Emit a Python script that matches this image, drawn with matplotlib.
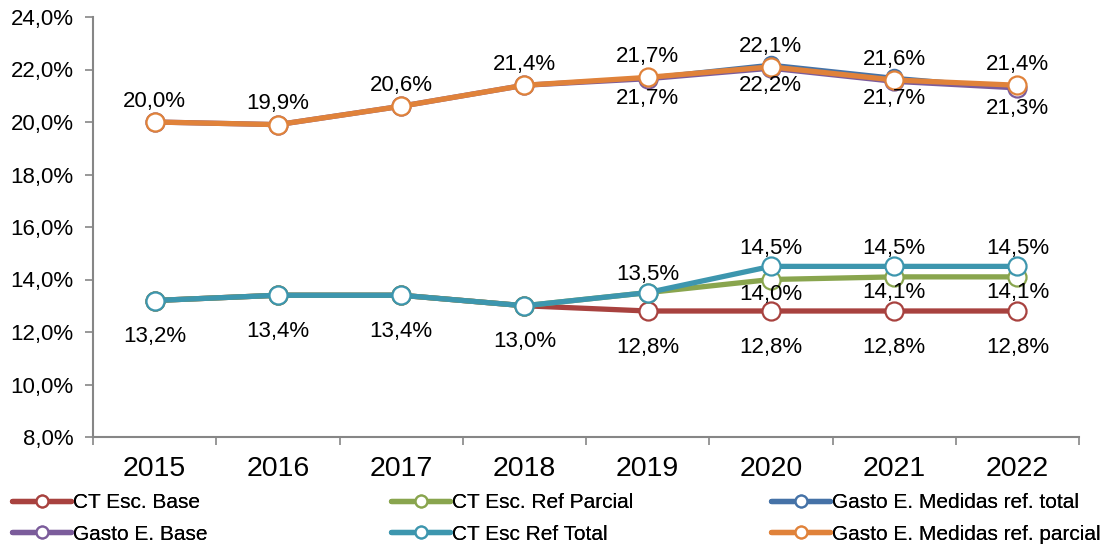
import matplotlib.pyplot as plt
from matplotlib.ticker import FuncFormatter

plt.rcParams['font.family'] = ['Liberation Sans', 'DejaVu Sans']

years = ['2015', '2016', '2017', '2018', '2019', '2020', '2021', '2022']

ct_base = [13.2, 13.4, 13.4, 13.0, 12.8, 12.8, 12.8, 12.8]
ct_ref_parcial = [13.2, 13.4, 13.4, 13.0, 13.5, 14.0, 14.1, 14.1]
ct_ref_total = [13.2, 13.4, 13.4, 13.0, 13.5, 14.5, 14.5, 14.5]
gasto_base = [20.0, 19.9, 20.6, 21.4, 21.65, 22.05, 21.55, 21.3]
gasto_ref_total = [20.0, 19.9, 20.6, 21.4, 21.7, 22.2, 21.7, 21.3]
gasto_ref_parcial = [20.0, 19.9, 20.6, 21.4, 21.7, 22.1, 21.6, 21.4]


def fmt(v):
    return ('%.1f%%' % v).replace('.', ',')


W, H = 1103, 548
fig = plt.figure(figsize=(W / 100, H / 100), dpi=100)
ax = fig.add_axes([93 / W, 1 - 437 / H, (1079 - 93) / W, (437 - 17) / H])

x = list(range(len(years)))

# orden de dibujo: la última serie queda encima
series = [
    ('Gasto E. Medidas ref. total', gasto_ref_total, '#4572A7', 2, 2.4, 11),
    ('Gasto E. Base', gasto_base, '#7B5C9B', 4, 3.8, 13),
    ('Gasto E. Medidas ref. parcial', gasto_ref_parcial, '#E0823A', 5, 3.8, 13),
    ('CT Esc. Base', ct_base, '#A8423F', 2, 3.8, 13),
    ('CT Esc. Ref Parcial', ct_ref_parcial, '#89A54E', 3, 3.8, 13),
    ('CT Esc Ref Total', ct_ref_total, '#3D96AE', 4, 3.8, 13),
]

lines = {}
for name, vals, color, z, lw, ms in series:
    ln, = ax.plot(x, vals, color=color, linewidth=lw, marker='o', markersize=ms,
                  markerfacecolor='white', markeredgecolor=color, markeredgewidth=1.6,
                  label=name, zorder=z, solid_capstyle='round')
    lines[name] = ln

fs = 16


def label(i, v, dy):
    ax.annotate(fmt(v), (i, v), xytext=(0, dy), textcoords='offset points',
                ha='center', va='center', fontsize=fs, zorder=10)


# etiquetas de datos
for i, v in enumerate(ct_base):
    label(i, v, -26)
for i in range(5, 8):
    label(i, ct_ref_parcial[i], -11)
for i in range(4, 8):
    label(i, ct_ref_total[i], 13)
for i, v in enumerate(gasto_ref_parcial):
    label(i, v, 15)
for i in range(4, 8):
    label(i, gasto_ref_total[i], -15)

ax.set_xlim(-0.5, len(years) - 0.5)
ax.set_ylim(8, 24)
ax.set_yticks(range(8, 25, 2))
ax.yaxis.set_major_formatter(FuncFormatter(lambda v, p: fmt(v)))
ax.set_xticks(x)
ax.set_xticklabels(years, fontsize=20.5)
ax.set_xticks([i - 0.5 for i in range(len(years) + 1)], minor=True)
ax.tick_params(axis='x', which='major', length=0, pad=14)
ax.tick_params(axis='x', which='minor', length=6, color='#868686', width=1.2, direction='out')
ax.tick_params(axis='y', labelsize=fs, length=6, color='#868686', width=1.2, pad=8)

for s in ['top', 'right']:
    ax.spines[s].set_visible(False)
for s in ['left', 'bottom']:
    ax.spines[s].set_color('#868686')
    ax.spines[s].set_linewidth(1.5)

# leyenda en tres columnas
cols = [(['CT Esc. Base', 'Gasto E. Base'], 2),
        (['CT Esc. Ref Parcial', 'CT Esc Ref Total'], 381),
        (['Gasto E. Medidas ref. total', 'Gasto E. Medidas ref. parcial'], 761)]
for names, px in cols:
    leg = fig.legend([lines[n] for n in names], names, loc='lower left',
                     bbox_to_anchor=(px / W, -6 / H), frameon=False,
                     fontsize=15, handlelength=2.8, handletextpad=0.1, markerscale=0.65,
                     labelspacing=0.6, borderaxespad=0.1)
    for h in leg.get_lines():
        h.set_linewidth(3.8)
        h.set_markersize(8.5)
    fig.add_artist(leg)

fig.savefig('out.png', dpi=100)
